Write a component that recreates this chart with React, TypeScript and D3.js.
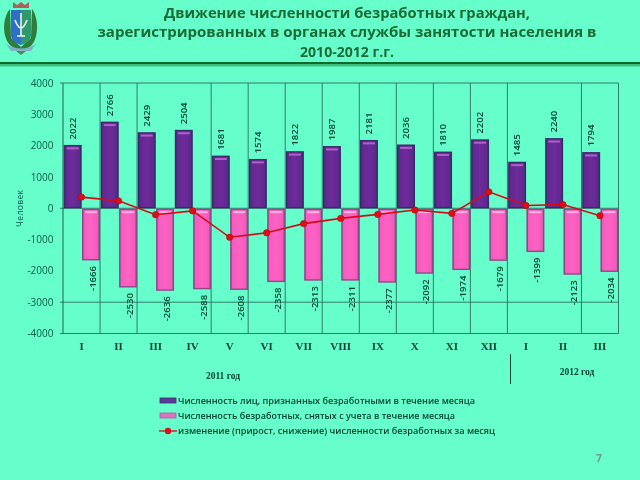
import React from "react";
import * as d3 from "d3";

const months = ["I","II","III","IV","V","VI","VII","VIII","IX","X","XI","XII","I","II","III"];
const registered = [2022,2766,2429,2504,1681,1574,1822,1987,2181,2036,1810,2202,1485,2240,1794];
const removed = [-1666,-2530,-2636,-2588,-2608,-2358,-2313,-2311,-2377,-2092,-1974,-1679,-1399,-2123,-2034];
const change = [356,236,-207,-84,-927,-784,-491,-324,-196,-56,-164,523,86,117,-240];
const yTicks = [4000,3000,2000,1000,0,-1000,-2000,-3000,-4000];
const gridValues = [4000,0,-3000,-4000];
const missingDividers = [3,13];
const titleLines = ["Движение численности безработных граждан,","зарегистрированных в органах службы занятости населения в","2010-2012 г.г."];
const legendLabels = ["Численность лиц, признанных безработными в течение месяца","Численность безработных, снятых с учета в течение месяца","изменение (прирост, снижение) численности безработных за месяц"];

const W = 640, H = 480;
const bg = "#66ffcc";
const textDark = "#0b5a45";
const x = d3.scaleBand<number>().domain(d3.range(months.length)).range([63, 618.5]);
const y = d3.scaleLinear().domain([-4000, 4000]).range([333.5, 83]);
const line = d3.line<number>().x((_, i) => x(i)! + x.bandwidth() / 2).y(d => y(d));
const sans = "'Open Sans','DejaVu Sans',sans-serif";
const serif = "'Liberation Serif',serif";

function Bar({ bx, top, bottom, kind }: { bx: number; top: number; bottom: number; kind: "p" | "m" }) {
  const w = 18;
  const edge = kind === "p" ? "#3a2a6a" : "#8c4a88";
  const hl = kind === "p" ? "#b060c8" : "#ffb4e4";
  return (
    <g>
      <rect x={bx} y={top} width={w} height={bottom - top} fill={edge} />
      <rect x={bx + 1.6} y={top + 1.2} width={w - 3.2} height={bottom - top - 2.6} fill={`url(#${kind})`} />
      <rect x={bx + 3} y={top + 2.4} width={w - 6} height={2} fill={hl} />
    </g>
  );
}

export default function App() {
  const band = x.bandwidth();
  return (
    <svg width={W} height={H} style={{ position: "absolute", left: 0, top: 0 }}>
      <defs>
        <linearGradient id="p" x1="0" x2="1" y1="0" y2="0">
          <stop offset="0" stopColor="#5c2a8c" />
          <stop offset="0.5" stopColor="#70299c" />
          <stop offset="1" stopColor="#5a2a8a" />
        </linearGradient>
        <linearGradient id="m" x1="0" x2="1" y1="0" y2="0">
          <stop offset="0" stopColor="#f25cbc" />
          <stop offset="0.5" stopColor="#ff62c4" />
          <stop offset="1" stopColor="#f05ab8" />
        </linearGradient>
        <filter id="soft" x="0" y="0" width="100%" height="100%"><feGaussianBlur stdDeviation="0.4" /></filter>
      </defs>
      <rect width={W} height={H} fill={bg} />
      <g filter="url(#soft)">

      {/* emblem */}
      <g>
        <path d="M10 9 C2 18 2 38 11 46 L21 52 L31 46 C39 38 39 18 32 9 L31 38 L21 47 L11 38 Z" fill="#2f7d3c" />
        <path d="M13 2 L17 5 L21 2 L25 5 L29 2 V8 H13 Z" fill="#b0605a" />
        <path d="M11 10 H21 V45 C16 43 11 41 11 35 Z" fill="#2f70c8" />
        <path d="M21 10 H31 V35 C31 41 26 43 21 45 Z" fill="#2f9a6c" />
        <path d="M21 13 V36 M15 20 Q21 36 27 20 M17 36 H25" fill="none" stroke="#eef4f0" strokeWidth="1.6" />
        <path d="M6 44 Q21 53 36 44 L31 51 H11 Z" fill="#7fb0c8" />
        <path d="M16 51 H26 L21 55 Z" fill="#4f8a5c" />
      </g>

      {/* title */}
      <g fontFamily={sans} fontWeight={700} fontSize={15} fill="#1e6b35" textAnchor="middle">
        {titleLines.map((t, i) => (
          <text key={i} x={347} y={[18, 37, 57][i]} textLength={[366, 499, 94][i]} lengthAdjust="spacingAndGlyphs">{t}</text>
        ))}
      </g>
      <rect x={0} y={62} width={W} height={2.5} fill="#0f6b2a" />
      <rect x={0} y={64.5} width={W} height={2} fill="#3fc47f" />

      {/* grid */}
      <g stroke="#2f7d68" strokeWidth={1}>
        {gridValues.map(v => (
          <line key={v} x1={60} x2={618.5} y1={y(v)} y2={y(v)} />
        ))}
        {d3.range(1, months.length + 1).filter(i => !missingDividers.includes(i)).map(i => (
          <line key={i} x1={63 + i * band} x2={63 + i * band} y1={83} y2={333.5} />
        ))}
        <line x1={63} x2={63} y1={83} y2={333.5} stroke="#1f5f50" />
      </g>

      {/* bars */}
      {registered.map((v, i) => (
        <Bar key={i} bx={x(i)! + 0.7} top={y(v)} bottom={y(0)} kind="p" />
      ))}
      {removed.map((v, i) => (
        <Bar key={i} bx={x(i)! + 19} top={y(0) + 0.5} bottom={y(v)} kind="m" />
      ))}

      {/* change line */}
      <path d={line(change) ?? ""} fill="none" stroke="#d01018" strokeWidth={1.6} />
      {change.map((v, i) => (
        <circle key={i} cx={x(i)! + band / 2} cy={y(v)} r={3.2} fill="#e00c14" stroke="#a80c10" strokeWidth={0.6} />
      ))}

      {/* value labels */}
      <g fontFamily={sans} fontSize={9.6} fontWeight={600} fill="#063f30" textAnchor="start">
        {registered.map((v, i) => (
          <text key={i} transform={`translate(${x(i)! + 13},${y(v) - 5.5})rotate(-90)`}>{v}</text>
        ))}
        {removed.map((v, i) => (
          <text key={i} transform={`translate(${x(i)! + 32.5},${y(v) + 5.5})rotate(-90)`} textAnchor="end">{v}</text>
        ))}
      </g>

      {/* y axis */}
      <g fontFamily={sans} fontSize={10} fill={textDark} textAnchor="end">
        {yTicks.map(v => (
          <text key={v} x={53.5} y={y(v) + 3.6}>{v}</text>
        ))}
      </g>
      <text transform="translate(23,208.5)rotate(-90)" textAnchor="middle" fontFamily={sans} fontSize={8.5} fill={textDark} textLength={37}>Человек</text>

      {/* month labels */}
      <g fontFamily={serif} fontWeight={700} fontSize={11} fill="#063f30" textAnchor="middle">
        {months.map((m, i) => (
          <text key={i} x={x(i)! + band / 2} y={350}>{m}</text>
        ))}
      </g>

      {/* years */}
      <g fontFamily={serif} fontWeight={700} fontSize={9.5} fill="#063f30" textAnchor="middle">
        <text x={223} y={379}>2011 год</text>
        <text x={577} y={375}>2012 год</text>
      </g>
      <line x1={510.5} x2={510.5} y1={354} y2={384} stroke="#063f30" strokeWidth={1} />

      {/* legend */}
      <rect x={160} y={398} width={16} height={5} fill="#5a3d96" stroke="#3f2a6e" strokeWidth={0.8} />
      <rect x={160} y={413} width={16} height={5} fill="#e070c4" stroke="#a860a0" strokeWidth={0.8} />
      <line x1={159} x2={177} y1={431} y2={431} stroke="#d8141e" strokeWidth={1.4} />
      <circle cx={168} cy={431} r={3.2} fill="#e00c14" />
      <g fontFamily={sans} fontWeight={600} fontSize={9.4} fill="#063f30">
        <text x={178} y={404} textLength={297} lengthAdjust="spacingAndGlyphs">{legendLabels[0]}</text>
        <text x={178} y={419} textLength={277} lengthAdjust="spacingAndGlyphs">{legendLabels[1]}</text>
        <text x={178} y={434} textLength={317} lengthAdjust="spacingAndGlyphs">{legendLabels[2]}</text>
      </g>
      <text x={599} y={462} fontFamily={sans} fontWeight={700} fontSize={10.5} fill="#6f9a8a" textAnchor="middle">7</text>
      </g>
    </svg>
  );
}
